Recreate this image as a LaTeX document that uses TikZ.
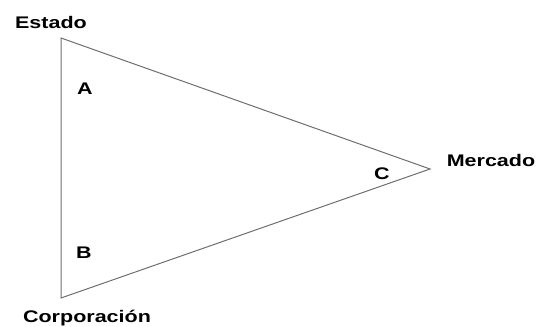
\documentclass[tikz,border=0pt]{standalone}
\usepackage{fontspec}
\setmainfont{Liberation Sans}[FakeStretch=1.28]
\usepackage{tikz}
\usetikzlibrary{positioning}
\definecolor{linegray}{RGB}{110,110,110}

\begin{document}
\begin{tikzpicture}[x=0.75pt, y=-0.75pt, every node/.style={font=\fontsize{12.6}{14}\selectfont\bfseries, inner sep=0pt, anchor=base}]
\useasboundingbox (0,0) rectangle (538,327);
\coordinate (est) at (61,38);
\coordinate (cor) at (61,298);
\coordinate (mer) at (430,169);
\draw[linegray, line width=0.75pt] (est) -- (mer) -- (cor) -- cycle;
\node (Lest) at (51,29) {Estado};
\node (Lcor) at (87,322) {Corporación};
\node (Lmer) at (491,167) {Mercado};
\node (A) at (85,95) {A};
\node (B) at (84,258) {B};
\node (C) at (382,180) {C};
\end{tikzpicture}
\end{document}
